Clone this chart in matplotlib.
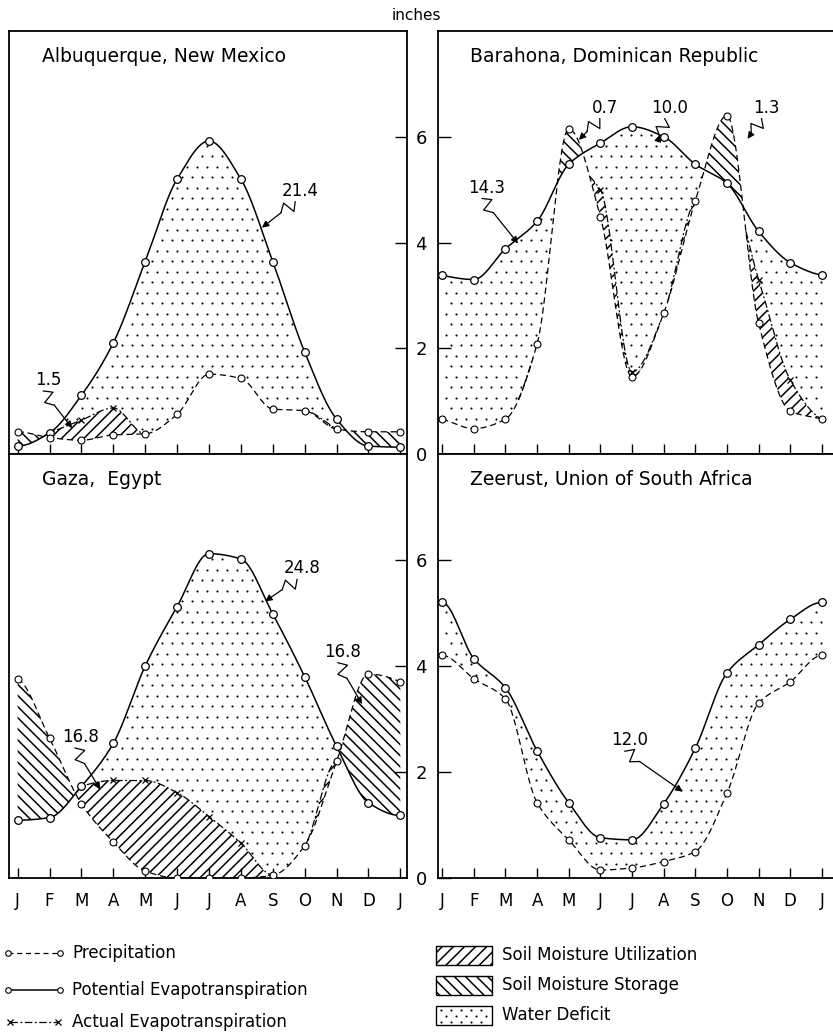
import numpy as np
import matplotlib.pyplot as plt
from matplotlib.patches import Rectangle

plt.rcParams['font.family'] = ['DejaVu Sans']
plt.rcParams['hatch.linewidth'] = 1.1

# month positions J..J (January repeated at the end)
months = ['J', 'F', 'M', 'A', 'M', 'J', 'J', 'A', 'S', 'O', 'N', 'D', 'J']

# Albuquerque, New Mexico (inches)
alb_pe = [0.15, 0.40, 1.11, 2.10, 3.64, 5.20, 5.92, 5.20, 3.64, 1.93, 0.66, 0.15, 0.13]
alb_p = [0.42, 0.31, 0.26, 0.36, 0.38, 0.75, 1.51, 1.43, 0.85, 0.82, 0.47, 0.42, 0.42]
alb_ae = [0.15, 0.40, 0.64, 0.87, 0.38, 0.75, 1.51, 1.43, 0.85, 0.82, 0.47, 0.15, 0.13]

# Barahona, Dominican Republic
bar_pe = [3.38, 3.30, 3.88, 4.40, 5.48, 5.88, 6.19, 6.00, 5.48, 5.12, 4.21, 3.62, 3.38]
bar_p = [0.66, 0.48, 0.66, 2.08, 6.15, 4.49, 1.46, 2.66, 4.79, 6.40, 2.47, 0.81, 0.66]
bar_ae = [0.66, 0.48, 0.66, 2.08, 5.48, 5.00, 1.55, 2.66, 4.79, 5.12, 3.30, 1.40, 0.66]

# Gaza, Egypt
gaz_pe = [1.09, 1.14, 1.73, 2.54, 4.00, 5.12, 6.12, 6.02, 4.98, 3.80, 2.49, 1.42, 1.18]
gaz_p = [3.76, 2.64, 1.40, 0.68, 0.13, 0.00, 0.00, 0.00, 0.05, 0.61, 2.20, 3.85, 3.70]
gaz_ae = [1.09, 1.14, 1.73, 1.84, 1.84, 1.61, 1.16, 0.66, 0.06, 0.61, 2.20, 1.42, 1.18]

# Zeerust, Union of South Africa
zee_pe = [5.20, 4.14, 3.59, 2.40, 1.42, 0.76, 0.72, 1.40, 2.45, 3.87, 4.40, 4.88, 5.20]
zee_p = [4.20, 3.76, 3.38, 1.42, 0.72, 0.15, 0.19, 0.31, 0.50, 1.60, 3.30, 3.70, 4.20]
zee_ae = zee_p


def pchip(y, xs):
    # shape preserving cubic through the monthly values, periodic slopes at the ends
    y = np.asarray(y, float)
    xs = np.asarray(xs, float)
    d = np.diff(y)
    n = len(y)
    m = np.zeros(n)
    for k in range(n):
        a = d[k - 1] if k > 0 else d[-1]
        b = d[k] if k < n - 1 else d[0]
        if a * b > 0:
            m[k] = 2.0 / (1.0 / a + 1.0 / b)
    i = np.clip(np.floor(xs).astype(int), 0, n - 2)
    t = xs - i
    h00 = 2 * t**3 - 3 * t**2 + 1
    h10 = t**3 - 2 * t**2 + t
    h01 = -2 * t**3 + 3 * t**2
    h11 = t**3 - t**2
    return h00 * y[i] + h10 * m[i] + h01 * y[i + 1] + h11 * m[i + 1]


def curves(pe, p, ae, xs):
    pe_s = pchip(pe, xs)
    p_s = pchip(p, xs)
    ae_s = np.clip(pchip(ae, xs), np.minimum(p_s, pe_s), pe_s)
    return pe_s, p_s, ae_s


def deficit_dots(ax, pe, p, ae):
    # sparse staggered dot texture between actual and potential evapotranspiration
    x0, y0, x1, y1 = ax.bbox.extents
    inv = ax.transData.inverted()
    pts = []
    for j, yy in enumerate(np.arange(y0 + 4, y1, 10.5)):
        for xx in np.arange(x0 + 3 + (j % 2) * 5, x1, 10):
            pts.append((xx, yy))
    d = inv.transform(np.array(pts))
    d = d[(d[:, 0] > 0) & (d[:, 0] < 12)]
    pe_s, p_s, ae_s = curves(pe, p, ae, d[:, 0])
    gap = 0.06
    keep = (d[:, 1] > ae_s + gap) & (d[:, 1] < pe_s - gap)
    ax.scatter(d[keep, 0], d[keep, 1], s=2.3, color='k', linewidths=0, zorder=2)


def draw_station(ax, pe, p, ae):
    x = np.arange(13)
    xs = np.linspace(0, 12, 1500)
    pe_s, p_s, ae_s = curves(pe, p, ae, xs)

    deficit_dots(ax, pe, p, ae)
    # soil moisture storage
    ax.fill_between(xs, pe_s, p_s, where=p_s > pe_s, interpolate=True,
                    facecolor='none', edgecolor='k', hatch='\\\\\\', linewidth=0)
    # soil moisture utilization
    ax.fill_between(xs, p_s, ae_s, where=ae_s > p_s + 1e-3, interpolate=True,
                    facecolor='none', edgecolor='k', hatch='///', linewidth=0)

    ax.plot(xs, pe_s, color='k', lw=1.1, zorder=3)
    ax.plot(xs, p_s, color='k', lw=0.9, dashes=(5, 3), zorder=3)
    ae_line = np.where((ae_s > p_s + 0.01) & (pe_s > p_s), ae_s, np.nan)
    ax.plot(xs, ae_line, color='k', lw=0.9, dashes=(6, 2, 1.5, 2), zorder=3)

    ax.plot(x, pe, 'o', ms=5.5, mfc='white', mec='k', mew=0.9, zorder=5)
    ax.plot(x, p, 'o', ms=5.0, mfc='white', mec='k', mew=0.8, zorder=5)
    ae = np.asarray(ae)
    sel = (ae > np.asarray(p) + 0.05) & (ae < np.asarray(pe) - 0.05)
    ax.plot(x[sel], ae[sel], 'x', ms=5, color='k', mew=0.9, zorder=5)


def note(ax, label, txy, target):
    ax.text(txy[0], txy[1], label, ha='center', va='center', fontsize=12)
    tr = ax.transData
    t = tr.transform(txy)
    g = tr.transform(target)
    s = t + np.array([-5.0, -11.0])
    u = (g - s) / np.hypot(*(g - s))
    n = np.array([-u[1], u[0]])
    pts = np.array([s, s + 7 * u + 7 * n, s + 10 * u - 6 * n, s + 18 * u])
    pd_ = tr.inverted().transform(pts)
    ax.plot(pd_[:, 0], pd_[:, 1], color='k', lw=0.9, zorder=6)
    ax.annotate('', xy=target, xytext=pd_[-1], zorder=6,
                arrowprops=dict(arrowstyle='-|>', color='k', lw=0.9,
                                mutation_scale=10, shrinkA=0, shrinkB=0))


W, H = 833, 1035
fig = plt.figure(figsize=(W / 100, H / 100), dpi=100)


def frac(x0, y0, x1, y1):
    return [x0 / W, 1 - y1 / H, (x1 - x0) / W, (y1 - y0) / H]


ax_alb = fig.add_axes(frac(9, 31, 407, 454))
ax_bar = fig.add_axes(frac(438, 31, 833, 454))
ax_gaz = fig.add_axes(frac(9, 454, 407, 878))
ax_zee = fig.add_axes(frac(438, 454, 833, 878))

stations = [
    (ax_alb, alb_pe, alb_p, alb_ae, 'Albuquerque, New Mexico', 'left'),
    (ax_bar, bar_pe, bar_p, bar_ae, 'Barahona, Dominican Republic', 'right'),
    (ax_gaz, gaz_pe, gaz_p, gaz_ae, 'Gaza,  Egypt', 'left'),
    (ax_zee, zee_pe, zee_p, zee_ae, 'Zeerust, Union of South Africa', 'right'),
]

for ax, pe, p, ae, title, side in stations:
    ax.set_ylim(0, 8)
    ax.set_xticks(range(13))
    ax.tick_params(axis='x', direction='in', length=7, width=1, pad=10, labelsize=12)
    for sp in ax.spines.values():
        sp.set_linewidth(1.3)
    if side == 'left':
        ax.set_xlim(-0.27, 12.21)
        ax.yaxis.tick_right()
        ax.set_yticks([2, 4, 6])
        ax.tick_params(axis='y', direction='in', length=9, width=1, labelright=False)
        ax.text(0.083, 0.94, title, transform=ax.transAxes, fontsize=13.5, va='center')
    else:
        ax.set_xlim(-0.13, 12.35)
        ax.yaxis.tick_left()
        ax.set_yticks([0, 2, 4, 6])
        ax.tick_params(axis='y', direction='in', length=9, width=1, pad=8, labelsize=13)
        ax.spines['right'].set_visible(False)
        ax.text(0.081, 0.94, title, transform=ax.transAxes, fontsize=13.5, va='center')
    draw_station(ax, pe, p, ae)

for ax in (ax_alb, ax_bar):
    ax.set_xticklabels([])
for ax in (ax_gaz, ax_zee):
    ax.set_xticklabels(months)

fig.text(416 / W, 1 - 15 / H, 'inches', ha='center', va='center', fontsize=11)

note(ax_alb, '21.4', (8.86, 4.98), (7.66, 4.28))
note(ax_alb, '1.5', (0.96, 1.40), (1.71, 0.49))
note(ax_bar, '14.3', (1.42, 5.04), (2.40, 3.98))
note(ax_bar, '0.7', (5.14, 6.55), (4.32, 5.94))
note(ax_bar, '10.0', (7.19, 6.55), (6.88, 6.04))
note(ax_bar, '1.3', (10.25, 6.55), (9.65, 5.96))
note(ax_gaz, '24.8', (8.92, 5.84), (7.76, 5.22))
note(ax_gaz, '16.8', (1.96, 2.66), (2.59, 1.67))
note(ax_gaz, '16.8', (10.2, 4.27), (10.8, 3.28))
note(ax_zee, '12.0', (5.93, 2.60), (7.60, 1.63))

# legend
lax = fig.add_axes([0, 0, 1, 140 / H])
lax.set_xlim(0, W)
lax.set_ylim(H, H - 140)
lax.axis('off')

lax.plot([8, 60], [953, 953], color='k', lw=0.9, dashes=(4, 3), marker='o',
         ms=4, mfc='white', mec='k', mew=0.8)
lax.plot([8, 60], [990, 990], color='k', lw=1.1, marker='o',
         ms=4, mfc='white', mec='k', mew=0.8)
lax.plot([10, 58], [1022, 1022], color='k', lw=0.9, dashes=(6, 2, 1.5, 2),
         marker='x', ms=5, mew=0.9)
lax.text(72, 953, 'Precipitation', va='center', fontsize=12)
lax.text(72, 990, 'Potential Evapotranspiration', va='center', fontsize=12)
lax.text(72, 1022, 'Actual Evapotranspiration', va='center', fontsize=12)

for y0, hatch, label in [(946, '///', 'Soil Moisture Utilization'),
                         (976, '\\\\\\', 'Soil Moisture Storage')]:
    lax.add_patch(Rectangle((436, y0), 56, 19, facecolor='none', edgecolor='k',
                            hatch=hatch, lw=1.0))
    lax.text(502, y0 + 9.5, label, va='center', fontsize=12)

# water deficit key with the same sparse dots
lax.add_patch(Rectangle((436, 1006), 56, 19, facecolor='none', edgecolor='k', lw=1.0))
kx, ky = np.meshgrid(np.arange(441, 490, 10), np.arange(1010, 1024, 6))
kx = kx + (np.arange(kx.shape[0])[:, None] % 2) * 5
lax.scatter(kx.ravel(), ky.ravel(), s=2.3, color='k', linewidths=0)
lax.text(502, 1015.5, 'Water Deficit', va='center', fontsize=12)

fig.savefig('out.png', dpi=100)
